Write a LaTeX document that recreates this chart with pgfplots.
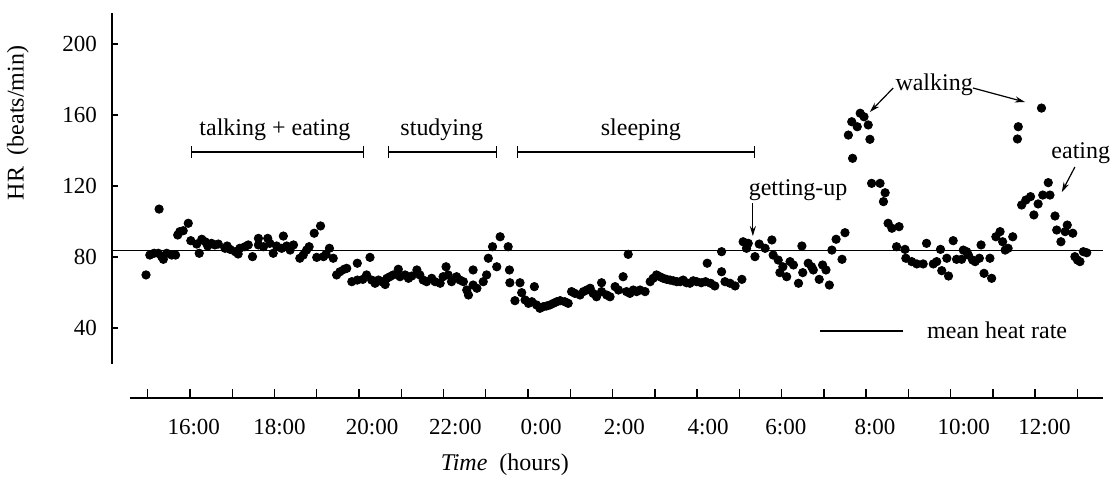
\documentclass[border=0pt]{standalone}
\usepackage{pgfplots}
\pgfplotsset{compat=1.18}
\usepackage{fontspec}
\setmainfont{Liberation Serif}
\usetikzlibrary{arrows.meta}

\pgfplotstableread{
h v
14.96 69.9
15.05 81.1
15.15 82.1
15.25 82.1
15.27 107
15.33 80.2
15.37 78.7
15.45 82.1
15.57 81.1
15.66 81.1
15.71 92.4
15.76 94.3
15.84 94.8
15.96 99
16.02 89.2
16.16 87.3
16.22 82.1
16.28 90
16.36 88.6
16.42 86.2
16.51 87.7
16.59 86.8
16.67 87.3
16.83 84.9
16.88 86.2
16.95 84.3
17.07 83
17.14 81.7
17.18 84.9
17.30 85.8
17.38 86.8
17.48 80.2
17.62 90.5
17.62 86.8
17.74 85.8
17.84 90.5
17.89 87.7
17.97 82.1
18.05 86.2
18.17 84.9
18.21 91.8
18.29 86.2
18.37 83.9
18.45 86.8
18.60 79.3
18.68 81.1
18.76 83.9
18.82 85.8
18.94 93.4
19.00 79.8
19.09 97.5
19.16 80.2
19.22 81.5
19.30 84.9
19.39 79.3
19.47 69.9
19.55 71.7
19.65 73.1
19.71 73.6
19.83 66.1
19.96 76.5
19.96 67
20.09 67.4
20.18 69.9
20.26 79.8
20.30 67
20.38 65.2
20.46 67
20.54 66.1
20.62 64.5
20.66 68
20.73 68.9
20.81 69.9
20.93 73.1
20.97 68.9
21.09 69.9
21.17 68
21.25 69.3
21.37 72.7
21.44 69.9
21.52 67
21.60 66.1
21.72 68
21.80 66.1
21.92 65.2
21.99 68.9
22.06 74.5
22.11 69.9
22.19 66.1
22.31 68.9
22.39 67
22.47 66.1
22.55 61.4
22.59 58.6
22.70 72.7
22.70 64.2
22.79 62.4
22.94 66.1
23.02 69.9
23.06 79.3
23.16 85.8
23.26 74.5
23.34 91.4
23.53 85.8
23.56 72.7
23.57 65.5
23.69 55.4
23.81 65.5
23.85 59.9
23.93 55.8
24.01 53.9
24.09 54.8
24.15 63.3
24.20 53
24.28 51.1
24.36 52
24.44 52.4
24.52 53
24.60 53.9
24.68 54.8
24.76 55.4
24.87 54.8
24.95 53.9
25.03 60.5
25.11 59.5
25.23 58.6
25.31 60.5
25.39 61.4
25.47 62.4
25.54 59.5
25.62 57.6
25.74 65.5
25.74 60.5
25.86 58.6
25.94 57.6
26.06 63.3
26.14 61.4
26.25 68.9
26.33 60.5
26.37 81.5
26.41 59.5
26.49 61.4
26.57 60.5
26.65 61.4
26.77 60.5
26.89 66.1
26.96 68
27.04 69.9
27.12 68.9
27.20 68
27.28 67.4
27.36 67
27.44 66.6
27.52 66.1
27.60 66.1
27.67 67
27.75 65.5
27.83 65.2
27.91 66.6
27.99 66.1
28.10 65.5
28.20 66.1
28.24 76.5
28.32 65.2
28.42 63.7
28.58 71.7
28.58 83
28.66 66.1
28.78 65.2
28.90 63.7
29.06 67.4
29.09 88.6
29.17 84.9
29.21 87.7
29.37 80.2
29.47 87.3
29.61 84.9
29.77 89.6
29.80 81.1
29.92 78.3
29.96 71.2
30.03 74.5
30.12 68.9
30.20 77.4
30.28 75.5
30.40 65.2
30.48 86.2
30.50 71.2
30.63 76.5
30.71 74.5
30.75 72.7
30.89 67.4
30.97 75.5
31.05 72.7
31.13 64.2
31.19 83.9
31.29 90
31.43 78.7
31.50 93.7
31.58 148.7
31.66 156.2
31.68 135.6
31.79 153.4
31.86 161
31.95 159
32.05 154.4
32.09 146.3
32.13 121.5
32.33 121.5
32.41 111.2
32.45 116.2
32.52 99
32.61 96.2
32.72 85.8
32.78 97.1
32.92 84.3
32.94 79.3
33.08 77.4
33.20 76.1
33.35 76.1
33.43 87.7
33.59 76.1
33.67 77.4
33.76 84.3
33.79 72.3
33.91 79.3
33.95 69.3
34.06 89.2
34.14 78.7
34.26 78.7
34.30 83.9
34.38 83
34.42 81.1
34.52 78.3
34.58 77.4
34.68 79.3
34.72 86.8
34.79 70.8
34.93 79.3
34.97 68
35.07 91.4
35.17 94.3
35.23 88.6
35.29 83.9
35.36 84.9
35.47 91.4
35.58 146.5
35.60 153.4
35.68 109.3
35.78 112.1
35.89 114
35.97 103.7
36.07 109.9
36.15 163.9
36.18 114.9
36.31 121.9
36.35 114.9
36.47 103.1
36.51 95.2
36.61 88.6
36.71 94.3
36.76 98
36.89 93.4
36.94 80.2
37.00 78.3
37.06 77.4
37.14 83
37.22 82.4
}\hrdata

\pgfplotstableread{
h v
14.155 83.8
37.60 83.8
}\meanline

\pgfplotstableread{
h v
30.91 38.3
32.87 38.3
}\legendline

\begin{document}
\begin{tikzpicture}
\begin{axis}[
  scale only axis,
  width=495.4pt, height=192.36pt,
  xmin=14.155, xmax=37.6, ymin=0.56, ymax=217.3,
  clip=false,
  axis x line*=bottom, axis y line*=left,
  axis line style={draw=none},
  tick align=inside,
  xtick pos=bottom, ytick pos=left,
  xtick={16.09,18.12,20.31,22.28,24.31,26.28,28.26,30.1,32.21,34.31,36.22},
  xticklabels={16:00,18:00,20:00,22:00,0:00,2:00,4:00,6:00,8:00,10:00,12:00},
  minor xtick={15,16,...,37},
  major x tick style={draw=none},
  minor x tick style={black, line width=0.7pt},
  minor tick length=4.5pt,
  ytick={40,80,120,160,200},
  major y tick style={black, line width=0.7pt},
  major tick length=3.2pt,
  /pgf/number format/assume math mode=true,
  ticklabel style={font=\fontsize{11.5}{13}\selectfont},
  yticklabel style={xshift=-4pt},
  xticklabel style={yshift=-7pt},
]
\path[use as bounding box] (axis cs:11.505,-51.83) rectangle (axis cs:37.771,224.79);
\draw[line width=0.75pt] (axis cs:14.155,20) -- (axis cs:14.155,217.3);
\draw[line width=0.75pt] (axis cs:14.58,0.56) -- (axis cs:37.6,0.56);

\addplot[black, line width=0.6pt] table {\meanline};
\addplot[black, line width=0.6pt] table {\legendline};
\addplot[only marks, mark=*, mark size=2.1pt, black] table {\hrdata};

% activity brackets
\draw[line width=0.6pt, {Bar[width=6pt]}-{Bar[width=6pt]}] (axis cs:16.02,139.2) -- (axis cs:20.13,139.2);
\draw[line width=0.6pt, {Bar[width=6pt]}-{Bar[width=6pt]}] (axis cs:20.69,139.2) -- (axis cs:23.26,139.2);
\draw[line width=0.6pt, {Bar[width=6pt]}-{Bar[width=6pt]}] (axis cs:23.73,139.2) -- (axis cs:29.37,139.2);

\begin{scope}[every node/.style={font=\fontsize{12}{14}\selectfont, inner sep=0pt}]
\node at (axis cs:18.01,151.5) {talking + eating};
\node at (axis cs:21.96,151.5) {studying};
\node at (axis cs:26.67,151.5) {sleeping};
\node at (axis cs:30.39,117.7) {getting-up};
\node at (axis cs:33.61,176.9) {walking};
\node at (axis cs:37.08,138.6) {eating};
\node at (axis cs:35.10,38.9) {mean heat rate};
\node at (axis cs:23.45,-37.2) {\textit{Time}\ \ (hours)};
\node[rotate=90] at (axis cs:11.93,155.5) {HR\ \ (beats/min)};
\end{scope}

\draw[line width=0.6pt, -{Stealth[length=5pt,width=3pt]}] (axis cs:29.32,110.4) -- (axis cs:29.32,91.8);
\draw[line width=0.6pt, -{Stealth[length=5pt,width=3pt]}] (axis cs:32.64,175.2) -- (axis cs:32.09,161.7);
\draw[line width=0.6pt, -{Stealth[length=5pt,width=3pt]}] (axis cs:34.53,175.2) -- (axis cs:35.76,167.3);
\draw[line width=0.6pt, -{Stealth[length=5pt,width=3pt]}] (axis cs:36.94,130.7) -- (axis cs:36.63,116.6);
\end{axis}
\end{tikzpicture}
\end{document}
